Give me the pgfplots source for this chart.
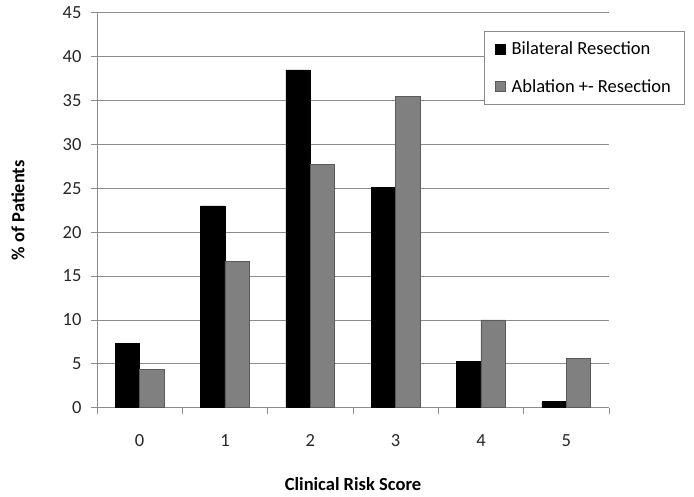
\documentclass[border=0pt]{standalone}
\usepackage{fontspec}
\setmainfont{Carlito}
\usepackage{pgfplots}
\pgfplotsset{compat=1.18}
\definecolor{axgray}{RGB}{140,140,140}
\definecolor{bargray}{RGB}{128,128,128}
\definecolor{baredge}{RGB}{90,90,90}
\begin{document}
\begin{tikzpicture}
\path[use as bounding box] (-97bp,-89.3bp) rectangle (597bp,407.7bp);
\begin{axis}[
  at={(0,0)}, anchor=south west,
  scale only axis, width=512bp, height=395bp,
  xmin=-0.5, xmax=5.5, ymin=0, ymax=45,
  ybar=0pt, bar width=24.4bp,
  axis lines*=left,
  axis line style={axgray, line width=0.8pt},
  xtick={0,1,2,3,4,5},
  minor xtick={-0.5,0.5,1.5,2.5,3.5,4.5,5.5},
  major x tick style={draw=none},
  minor x tick style={axgray, line width=0.8pt},
  minor tick length=6bp,
  ytick={0,5,...,45},
  y tick style={axgray, line width=0.8pt},
  major tick length=6bp,
  tick align=outside,
  ymajorgrids,
  grid style={axgray, line width=0.8pt},
  /pgf/number format/assume math mode=true,
  ticklabel style={font=\fontsize{18.5bp}{21bp}\selectfont, text=black!85},
  xticklabel style={yshift=-17.5bp},
  yticklabel style={xshift=-6bp},
  xlabel={Clinical Risk Score},
  ylabel={\% of Patients},
  label style={font=\fontsize{18.5bp}{21bp}\selectfont\bfseries},
  xlabel style={at={(axis description cs:0.5,-0.1924)}, anchor=center},
  ylabel style={at={(axis description cs:-0.1543,0.5)}, anchor=center},
  legend style={at={(axis description cs:0.7553,0.9544)}, anchor=north west,
    draw=axgray, line width=0.8pt, font=\fontsize{18.5bp}{21bp}\selectfont,
    inner xsep=11bp, inner ysep=9bp, row sep=19bp, cells={anchor=west}},
  legend image code/.code={\fill[#1] (3bp,-5bp) rectangle (13bp,5bp); \path (17bp,0bp);},
]
\addplot[fill=black, draw=black, line width=0.5pt] coordinates {(0,7.33) (1,23.0) (2,38.5) (3,25.06) (4,5.24) (5,0.68)};
\addplot[fill=bargray, draw=baredge, line width=0.5pt] coordinates {(0,4.4) (1,16.7) (2,27.7) (3,35.5) (4,10.0) (5,5.58)};
\legend{Bilateral Resection, Ablation +- Resection}
\end{axis}
\end{tikzpicture}
\end{document}
